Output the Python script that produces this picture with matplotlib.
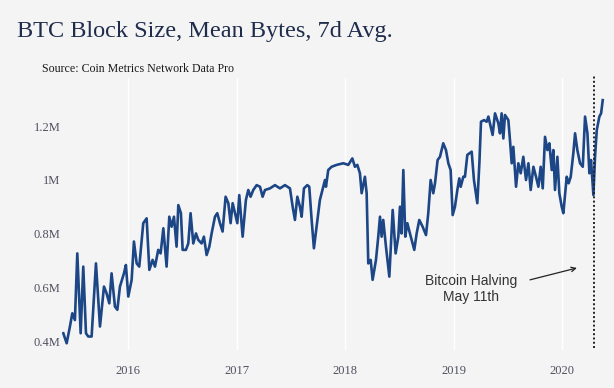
import matplotlib
matplotlib.use('Agg')
import matplotlib.pyplot as plt

# Time (decimal years) and 7d-average mean block size (millions of bytes)
years = [2015.401, 2015.432, 2015.462, 2015.484, 2015.508, 2015.530, 2015.561, 2015.585,
         2015.610, 2015.631, 2015.662, 2015.702, 2015.739, 2015.776, 2015.800, 2015.825,
         2015.846, 2015.877, 2015.899, 2015.923, 2015.960, 2015.978, 2016.000, 2016.031,
         2016.052, 2016.077, 2016.101, 2016.138, 2016.169, 2016.194, 2016.224, 2016.246,
         2016.276, 2016.298, 2016.323, 2016.353, 2016.378, 2016.399, 2016.421, 2016.445,
         2016.461, 2016.485, 2016.501, 2016.531, 2016.553, 2016.574, 2016.599, 2016.624,
         2016.645, 2016.676, 2016.697, 2016.722, 2016.747, 2016.768, 2016.799, 2016.820,
         2016.845, 2016.869, 2016.897, 2016.922, 2016.943, 2016.962, 2016.983, 2017.005,
         2017.023, 2017.054, 2017.084, 2017.106, 2017.127, 2017.152, 2017.183, 2017.214,
         2017.238, 2017.260, 2017.306, 2017.352, 2017.398, 2017.444, 2017.490, 2017.515,
         2017.536, 2017.558, 2017.582, 2017.598, 2017.619, 2017.650, 2017.668, 2017.690,
         2017.711, 2017.736, 2017.766, 2017.813, 2017.822, 2017.843, 2017.874, 2017.920,
         2017.982, 2018.028, 2018.065, 2018.089, 2018.111, 2018.135, 2018.151, 2018.181,
         2018.197, 2018.212, 2018.234, 2018.252, 2018.283, 2018.304, 2018.320, 2018.335,
         2018.350, 2018.375, 2018.406, 2018.437, 2018.464, 2018.489, 2018.504, 2018.519,
         2018.535, 2018.553, 2018.572, 2018.596, 2018.636, 2018.658, 2018.682, 2018.713,
         2018.744, 2018.765, 2018.787, 2018.811, 2018.827, 2018.851, 2018.873, 2018.903,
         2018.928, 2018.950, 2018.971, 2018.990, 2019.011, 2019.033, 2019.051, 2019.064,
         2019.088, 2019.103, 2019.125, 2019.165, 2019.186, 2019.217, 2019.236, 2019.251,
         2019.279, 2019.303, 2019.319, 2019.340, 2019.358, 2019.380, 2019.411, 2019.426,
         2019.441, 2019.457, 2019.472, 2019.503, 2019.518, 2019.534, 2019.549, 2019.574,
         2019.595, 2019.617, 2019.641, 2019.666, 2019.688, 2019.709, 2019.734, 2019.758,
         2019.780, 2019.801, 2019.820, 2019.841, 2019.863, 2019.881, 2019.903, 2019.918,
         2019.933, 2019.955, 2019.973, 2019.995, 2020.010, 2020.041, 2020.059, 2020.078,
         2020.102, 2020.118, 2020.139, 2020.164, 2020.189, 2020.210, 2020.232, 2020.250,
         2020.265, 2020.287, 2020.302, 2020.318, 2020.342, 2020.358, 2020.373]

block_size_m = [0.432, 0.395, 0.457, 0.506, 0.481, 0.728, 0.432, 0.679,
                0.432, 0.420, 0.420, 0.691, 0.457, 0.605, 0.580, 0.543,
                0.654, 0.531, 0.519, 0.605, 0.654, 0.685, 0.568, 0.630,
                0.772, 0.691, 0.679, 0.840, 0.858, 0.667, 0.704, 0.679,
                0.741, 0.728, 0.821, 0.679, 0.864, 0.827, 0.864, 0.753,
                0.907, 0.877, 0.741, 0.741, 0.765, 0.877, 0.765, 0.802,
                0.778, 0.765, 0.790, 0.722, 0.753, 0.802, 0.864, 0.877,
                0.840, 0.809, 0.938, 0.914, 0.840, 0.914, 0.877, 0.840,
                0.944, 0.790, 0.926, 0.963, 0.938, 0.963, 0.981, 0.975,
                0.938, 0.963, 0.969, 0.981, 0.969, 0.981, 0.969, 0.901,
                0.852, 0.938, 0.901, 0.864, 0.969, 0.981, 0.975, 0.852,
                0.747, 0.827, 0.926, 1.000, 0.975, 1.037, 1.049, 1.056,
                1.062, 1.056, 1.080, 1.049, 1.056, 1.025, 0.951, 1.012,
                0.951, 0.691, 0.704, 0.630, 0.704, 0.790, 0.864, 0.790,
                0.852, 0.753, 0.642, 0.889, 0.728, 0.790, 0.901, 0.802,
                1.037, 0.790, 0.840, 0.802, 0.741, 0.802, 0.852, 0.827,
                0.796, 0.877, 1.000, 0.951, 0.988, 1.074, 1.086, 1.136,
                1.111, 1.062, 1.037, 0.870, 0.901, 0.963, 1.006, 0.975,
                1.012, 1.012, 1.093, 1.105, 1.000, 0.914, 1.062, 1.216,
                1.222, 1.216, 1.235, 1.198, 1.167, 1.247, 1.210, 1.173,
                1.247, 1.154, 1.241, 1.222, 1.148, 1.062, 1.123, 0.975,
                1.062, 1.025, 1.086, 1.000, 1.062, 0.963, 1.049, 1.012,
                0.975, 1.049, 0.969, 1.160, 1.111, 1.136, 1.037, 1.111,
                0.963, 1.086, 0.951, 0.901, 0.877, 1.012, 0.988, 1.012,
                1.099, 1.173, 1.111, 1.062, 1.049, 1.235, 1.173, 1.025,
                1.074, 0.944, 1.086, 1.185, 1.235, 1.247, 1.296]

year_ticks = [2016, 2017, 2018, 2019, 2020]
year_labels = ['2016', '2017', '2018', '2019', '2020']
y_ticks = [0.4, 0.6, 0.8, 1.0, 1.2]
y_labels = ['0.4M', '0.6M', '0.8M', '1M', '1.2M']
halving_year = 2020.293

BG = '#f4f4f4'
SERIF = ['Liberation Serif', 'DejaVu Serif']
SANS = ['Liberation Sans', 'DejaVu Sans']

fig = plt.figure(figsize=(6.14, 3.88), dpi=100, facecolor=BG)
ax = fig.add_axes([62 / 614, 38 / 388, (610 - 62) / 614, (350 - 78) / 388])
ax.set_facecolor(BG)

ax.plot(years, block_size_m, color='#1c4686', lw=1.9, solid_joinstyle='round', zorder=3)

ax.set_xlim(2015.389, 2020.44)
ax.set_ylim(0.370, 1.378)

ax.set_xticks(year_ticks)
ax.set_xticklabels(year_labels, fontfamily=SERIF, fontsize=9, color='#505060')
ax.set_yticks(y_ticks)
ax.set_yticklabels(y_labels, fontfamily=SERIF, fontsize=9, color='#505060')
ax.tick_params(axis='both', length=0)
ax.tick_params(axis='x', pad=11)
ax.tick_params(axis='y', pad=1)
for s in ax.spines.values():
    s.set_visible(False)
ax.grid(axis='x', color='white', lw=1.0, zorder=0)
ax.grid(axis='y', visible=False)

# halving line
ax.vlines(halving_year, 0.378, 1.389, colors='#222222', linestyles=(0, (1, 1.2)),
          lw=1.4, clip_on=False, zorder=4)

ax.annotate('', xy=(2020.135, 0.674), xytext=(2019.703, 0.630),
            arrowprops=dict(arrowstyle='->', color='#222222', lw=0.9,
                            shrinkA=0, shrinkB=0, mutation_scale=8))
ax.text(2019.157, 0.596, 'Bitcoin Halving\nMay 11th', ha='center', va='center',
        multialignment='center', fontfamily=SANS, fontsize=10, color='#333333',
        linespacing=1.25)

fig.text(17 / 614, 1 - 37.5 / 388, 'BTC Block Size, Mean Bytes, 7d Avg.', fontfamily=SERIF,
         fontsize=17.5, color='#1f2c4c', ha='left', va='baseline')
fig.text(42.5 / 614, 1 - 72 / 388, 'Source: Coin Metrics Network Data Pro', fontfamily=SERIF,
         fontsize=8.6, color='#1a1a1a', ha='left', va='baseline')

fig.savefig('out.png', dpi=100, facecolor=BG)
